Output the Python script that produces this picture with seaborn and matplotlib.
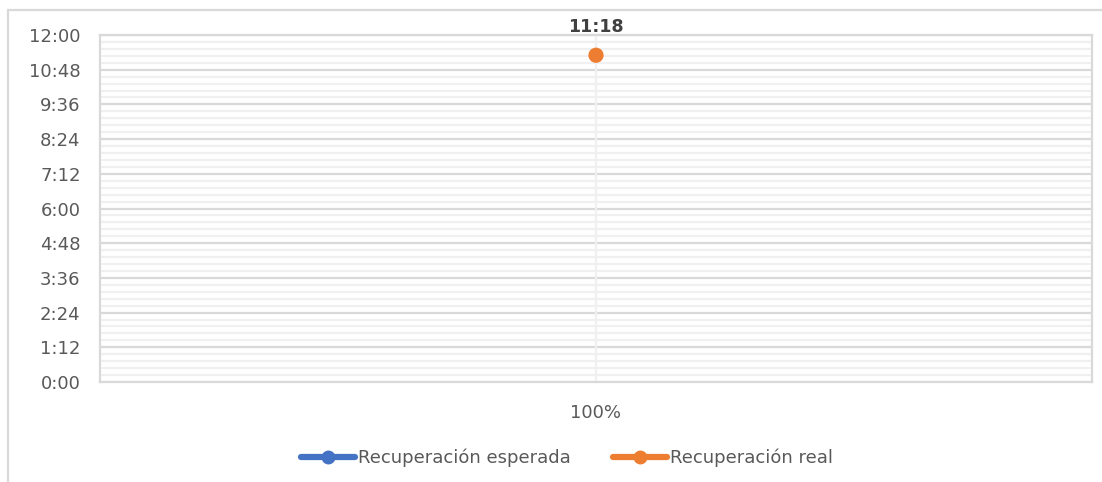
import numpy as np
import pandas as pd
import matplotlib
matplotlib.use("Agg")
import matplotlib.pyplot as plt
import seaborn as sns
from matplotlib.lines import Line2D
from matplotlib.patches import Rectangle
from matplotlib.ticker import MultipleLocator, FuncFormatter

# ---------------------------
# Data (minutes)
# ---------------------------
categories = ["100%"]
series_names = ["Recuperación esperada", "Recuperación real"]
esperada = [np.nan]
real = [678]  # 11:18
colors = ["#4472C4", "#ED7D31"]

df = pd.DataFrame({
    "x": [0] * len(categories) * 2,
    "minutos": esperada + real,
    "serie": [series_names[0]] * len(esperada) + [series_names[1]] * len(real),
})

# ---------------------------
# Figure
# ---------------------------
sns.set_theme(style="white")
plt.rcParams["font.family"] = ["DejaVu Sans"]

fig = plt.figure(figsize=(11.02, 4.82), dpi=100)
ax = fig.add_axes([100 / 1102, 1 - 382 / 482, 992 / 1102, 347 / 482])

sns.scatterplot(
    data=df, x="x", y="minutos", hue="serie",
    palette=dict(zip(series_names, colors)),
    s=120, edgecolor="none", legend=False, ax=ax, zorder=5,
)

ax.set_xlim(-0.5, 0.5)
ax.set_ylim(0, 720)
ax.set_xticks(range(len(categories)))
ax.set_xticklabels(categories)
ax.set_xlabel("")
ax.set_ylabel("")

ax.yaxis.set_major_locator(MultipleLocator(72))
ax.yaxis.set_minor_locator(MultipleLocator(14.4))
ax.yaxis.set_major_formatter(FuncFormatter(lambda v, p: f"{int(round(v)) // 60}:{int(round(v)) % 60:02d}"))
ax.grid(which="major", axis="y", color="#d9d9d9", linewidth=1.6)
ax.grid(which="minor", axis="y", color="#f0f0f0", linewidth=1.6)
ax.axvline(0, color="#f0f0f0", linewidth=1.6, zorder=1)
ax.set_axisbelow(True)

for s in ax.spines.values():
    s.set_color("#d9d9d9")
    s.set_linewidth(1.6)

ax.tick_params(axis="both", which="both", length=0, colors="#595959", labelsize=13)
ax.tick_params(axis="y", pad=14)
ax.tick_params(axis="x", pad=16)

ax.annotate("11:18", (0, real[0]), xytext=(0, 28), textcoords="offset pixels",
            ha="center", va="center", fontsize=12.5, fontweight="bold", color="#404040")

handles = [Line2D([0], [0], color=c, linewidth=4.5, marker="o", markersize=9) for c in colors]
fig.legend(handles, series_names, loc="center", bbox_to_anchor=(567 / 1102, 1 - 458 / 482),
           ncol=2, frameon=False, fontsize=13, labelcolor="#595959",
           handlelength=3, handletextpad=0.2, columnspacing=2.3)

# outer chart frame
fig.patches.append(Rectangle((8 / 1102, -0.1), 1.2, 1 - 10 / 482 + 0.1, transform=fig.transFigure,
                             fill=False, edgecolor="#d9d9d9", linewidth=1.6))

fig.savefig("out.png", dpi=100)
